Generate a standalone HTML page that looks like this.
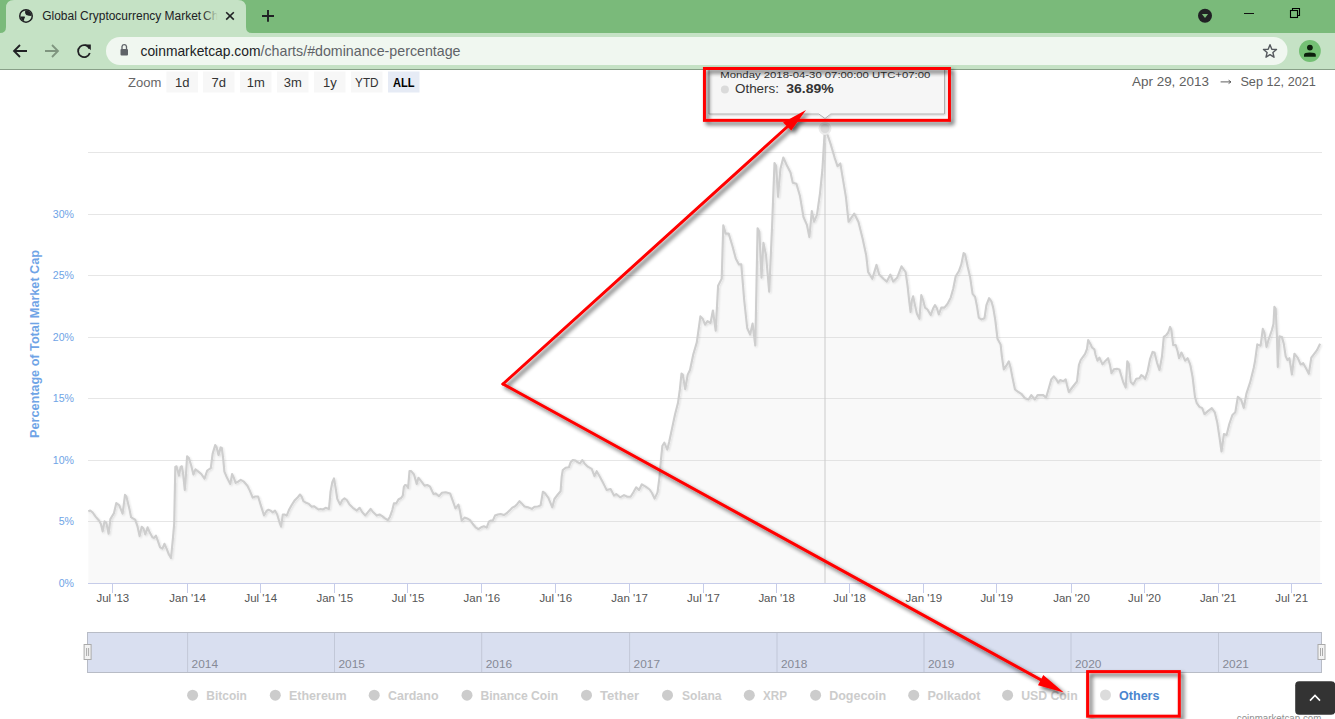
<!DOCTYPE html><html><head><meta charset="utf-8"><title>Global Cryptocurrency Market Charts</title><style>
html,body{margin:0;padding:0;background:#fff;overflow:hidden;width:1335px;height:719px}
svg{display:block;font-family:"Liberation Sans", sans-serif}
</style></head><body>
<svg width="1335" height="719" viewBox="0 0 1335 719">
<defs>
<filter id="rsh" x="-20%" y="-20%" width="140%" height="140%"><feGaussianBlur in="SourceAlpha" stdDeviation="2"/><feOffset dx="2.5" dy="2.5" result="b"/><feComponentTransfer in="b" result="c"><feFuncA type="linear" slope="0.65"/></feComponentTransfer><feMerge><feMergeNode in="c"/><feMergeNode in="SourceGraphic"/></feMerge></filter>
<filter id="lsh" x="-5%" y="-5%" width="110%" height="110%"><feGaussianBlur in="SourceAlpha" stdDeviation="0.8"/><feOffset dx="0.5" dy="1" result="b"/><feComponentTransfer in="b" result="c"><feFuncA type="linear" slope="0.12"/></feComponentTransfer><feMerge><feMergeNode in="c"/><feMergeNode in="SourceGraphic"/></feMerge></filter>
<filter id="tsh" x="-10%" y="-30%" width="120%" height="160%"><feGaussianBlur in="SourceAlpha" stdDeviation="1"/><feOffset dx="1" dy="1" result="b"/><feComponentTransfer in="b" result="c"><feFuncA type="linear" slope="0.2"/></feComponentTransfer><feMerge><feMergeNode in="c"/><feMergeNode in="SourceGraphic"/></feMerge></filter>
<linearGradient id="tfade" x1="0" x2="1" y1="0" y2="0"><stop offset="0" stop-color="#c5e2c5" stop-opacity="0"/><stop offset="1" stop-color="#c5e2c5" stop-opacity="1"/></linearGradient>
<clipPath id="gclip"><circle r="5.6"/></clipPath><clipPath id="plotclip"><rect x="88" y="70" width="1240" height="514"/></clipPath>
</defs>
<rect x="0" y="0" width="1335" height="33" fill="#7aba7a"/>
<path d="M0 33 Q6 33 6 27 L6 8 Q6 0 14 0 L238 0 Q246 0 246 8 L246 27 Q246 33 252 33 Z" fill="#c5e2c5"/>
<rect x="0" y="33" width="1335" height="36" fill="#c5e2c5"/>
<rect x="0" y="69" width="1335" height="1" fill="#88a088"/>
<g transform="translate(26,15.9)"><circle r="7" fill="#202124"/><circle r="5.5" fill="#c5e2c5"/><g clip-path="url(#gclip)" fill="#202124"><path d="M-0.8 -6 L-0.8 -4.9 Q-1.4 -2.4 0.3 -1 Q2.5 0 6 0.1 L6 -6 Z"/><path d="M-6 0.7 L-1.3 0.7 Q-0.5 1.8 -1.9 3.2 L-1.9 6 L-6 6 Z"/></g></g>
<text x="42.2" y="19.8" font-size="12" fill="#202124" textLength="159" lengthAdjust="spacingAndGlyphs">Global Cryptocurrency Market</text>
<text x="203" y="19.8" font-size="12" fill="#202124">Ch</text>
<rect x="203" y="3" width="15" height="26" fill="url(#tfade)"/><rect x="217.5" y="3" width="25" height="26" fill="#c5e2c5"/>
<path d="M226.2 12.2 L233.8 19.6 M233.8 12.2 L226.2 19.6" stroke="#202124" stroke-width="1.6"/>
<path d="M268 10.1 V21.8 M262 16 H274" stroke="#202124" stroke-width="1.9"/>
<circle cx="1205" cy="15.8" r="7" fill="#202124"/><path d="M1201.9 14 L1208.1 14 L1205 18 Z" fill="#7aba7a"/>
<rect x="1244" y="13" width="10" height="1" fill="#111"/>
<rect x="1290.5" y="10.5" width="7" height="7" fill="none" stroke="#000" stroke-width="1.1"/><path d="M1292.5 10 V8.5 H1299.5 V15.5 H1298" fill="none" stroke="#000" stroke-width="1.1"/>
<path d="M27 51 H14 M20 45 L14 51 L20 57" fill="none" stroke="#202124" stroke-width="1.8"/>
<path d="M45 51 H58 M52 45 L58 51 L52 57" fill="none" stroke="#7f957f" stroke-width="1.8"/>
<path d="M89.5 48.5 A6 6 0 1 0 89.8 53" fill="none" stroke="#202124" stroke-width="1.8"/><path d="M85 44.5 L90.8 44.5 L90.8 50.2 Z" fill="#202124"/>
<rect x="106" y="37" width="1181.5" height="28" rx="14" fill="#f0f7f0"/>
<rect x="120.5" y="49" width="7.5" height="6.5" rx="1" fill="#5f6368"/><path d="M122 49 V46.5 A2.3 2.3 0 0 1 126.5 46.5 V49" fill="none" stroke="#5f6368" stroke-width="1.3"/>
<text x="140.5" y="56.3" font-size="14.6" fill="#202124" textLength="120" lengthAdjust="spacingAndGlyphs">coinmarketcap.com</text><text x="260.5" y="56.3" font-size="14.6" fill="#5f6368" textLength="200" lengthAdjust="spacingAndGlyphs">/charts/#dominance-percentage</text>
<path d="M1270 44.7 L1271.8 49.2 L1276.5 49.5 L1272.9 52.5 L1274 57.2 L1270 54.6 L1266 57.2 L1267.1 52.5 L1263.5 49.5 L1268.2 49.2 Z" fill="none" stroke="#55595e" stroke-width="1.4" stroke-linejoin="round"/>
<circle cx="1309.9" cy="51" r="10.9" fill="#74c074"/><circle cx="1309.9" cy="47.6" r="2.9" fill="#0c1f0c"/><path d="M1304 56.8 V54.8 Q1304 52.4 1309.9 52.4 Q1315.8 52.4 1315.8 54.8 V56.8 Z" fill="#0c1f0c"/>
<text x="128" y="87" font-size="13" fill="#666">Zoom</text>
<rect x="166.4" y="71.5" width="31.5" height="21" fill="#f7f7f7"/>
<text x="182.2" y="87" font-size="13" text-anchor="middle" fill="#333">1d</text>
<rect x="203" y="71.5" width="31.5" height="21" fill="#f7f7f7"/>
<text x="218.8" y="87" font-size="13" text-anchor="middle" fill="#333">7d</text>
<rect x="240" y="71.5" width="31.5" height="21" fill="#f7f7f7"/>
<text x="255.8" y="87" font-size="13" text-anchor="middle" fill="#333">1m</text>
<rect x="277" y="71.5" width="31.5" height="21" fill="#f7f7f7"/>
<text x="292.8" y="87" font-size="13" text-anchor="middle" fill="#333">3m</text>
<rect x="314" y="71.5" width="31.5" height="21" fill="#f7f7f7"/>
<text x="329.8" y="87" font-size="13" text-anchor="middle" fill="#333">1y</text>
<rect x="351" y="71.5" width="31.5" height="21" fill="#f7f7f7"/>
<text x="366.8" y="87" font-size="13" text-anchor="middle" fill="#333" textLength="23.5" lengthAdjust="spacingAndGlyphs">YTD</text>
<rect x="388" y="71.5" width="31.5" height="21" fill="#e6ebf5"/>
<text x="403.8" y="87" font-size="13" text-anchor="middle" fill="#000" font-weight="bold" textLength="21.5" lengthAdjust="spacingAndGlyphs">ALL</text>
<text x="1132" y="86.3" font-size="13" fill="#606060" textLength="77" lengthAdjust="spacingAndGlyphs">Apr 29, 2013</text>
<path d="M1220.6 81.9 H1231 M1228.6 80.2 L1231 81.9 L1228.6 83.6" fill="none" stroke="#606060" stroke-width="1"/>
<text x="1240.4" y="86.3" font-size="13" fill="#606060" textLength="75.5" lengthAdjust="spacingAndGlyphs">Sep 12, 2021</text>
<rect x="88" y="152" width="1234" height="1" fill="#e6e6e6"/>
<rect x="88" y="214" width="1234" height="1" fill="#e6e6e6"/>
<rect x="88" y="275" width="1234" height="1" fill="#e6e6e6"/>
<rect x="88" y="337" width="1234" height="1" fill="#e6e6e6"/>
<rect x="88" y="398" width="1234" height="1" fill="#e6e6e6"/>
<rect x="88" y="460" width="1234" height="1" fill="#e6e6e6"/>
<rect x="88" y="521" width="1234" height="1" fill="#e6e6e6"/>
<text x="74" y="217.9" font-size="10.6" text-anchor="end" fill="#6fa4e6">30%</text>
<text x="74" y="278.9" font-size="10.6" text-anchor="end" fill="#6fa4e6">25%</text>
<text x="74" y="340.9" font-size="10.6" text-anchor="end" fill="#6fa4e6">20%</text>
<text x="74" y="401.9" font-size="10.6" text-anchor="end" fill="#6fa4e6">15%</text>
<text x="74" y="463.9" font-size="10.6" text-anchor="end" fill="#6fa4e6">10%</text>
<text x="74" y="524.9" font-size="10.6" text-anchor="end" fill="#6fa4e6">5%</text>
<text x="74" y="586.9" font-size="10.6" text-anchor="end" fill="#6fa4e6">0%</text>
<text transform="translate(39.2,438) rotate(-90)" font-size="12" font-weight="bold" fill="#6fa4e6" textLength="188" lengthAdjust="spacingAndGlyphs">Percentage of Total Market Cap</text>
<path d="M88.3 511.3 L90.3 510.5 L92.7 512.5 L95.6 516.6 L99.2 520.8 L101 524.3 L102.7 531.4 L104.5 521.4 L106.3 522.6 L108.6 533.8 L110.4 519 L112.2 516 L114 513.1 L116.3 503 L119.3 505.4 L122.6 513.7 L125 494.8 L126.4 496.5 L129.3 508.4 L131.1 517.2 L132.9 518.4 L135.2 519.6 L137.6 526.7 L139.6 536.1 L141.7 526.7 L143.5 528.5 L145.3 534.4 L147.6 527.3 L149.8 532.6 L152.4 537.3 L154.1 537.9 L155.9 535.6 L157.7 540.3 L160.1 547.4 L162.4 548.6 L164.4 543.8 L166.6 548.6 L168.9 554.5 L171 558 L173.1 536.7 L174.2 523.7 L175.3 466.9 L176.5 466.3 L177.7 470.5 L178.9 475.8 L180.6 466.9 L181.8 466.3 L183 472.8 L184.8 490 L186 474 L187.1 456.3 L188.9 458 L191.3 465.7 L193.4 474.6 L195.4 469.3 L198.4 471.6 L201.3 474 L204.5 478.7 L207.2 470.5 L210.8 468.1 L212.6 453.9 L215.2 445 L216.7 447.4 L218.5 455.1 L220.6 447.4 L221.8 448 L223.2 458.6 L224.4 471.6 L226.7 477 L230.3 484.1 L232.1 474 L233.8 477.6 L235.6 482.9 L238 481.7 L240.7 479.9 L243.9 481.7 L247.4 485.8 L249.8 490.6 L252.7 497.6 L255.1 496.5 L258.1 496.5 L261 505.9 L264 515.4 L266.5 511 L268.5 509.7 L270.6 510.6 L272.8 512.3 L275 510.6 L277.2 514.5 L279.5 522.3 L281.1 526.7 L282.8 514.5 L284.5 514.5 L286.7 515.6 L288.9 510.1 L291.7 505 L294.5 500.6 L297.3 497.8 L300 494.5 L301.7 496.7 L303.4 501.2 L306.2 502.8 L308.9 503.9 L311.7 506.7 L313.9 506.2 L316.2 507.8 L318.4 509.5 L320.6 508.9 L322.8 509.5 L325.6 507.8 L329 508.9 L330.6 491.1 L332.3 482.2 L334 478.4 L335.6 487.8 L337.3 498.9 L340.1 504.5 L342.3 500 L344.5 498.4 L346.8 500 L349.5 504.5 L352.9 507.8 L356.8 510.6 L359.6 507.8 L362.3 512.3 L365.3 515.4 L367.8 512.3 L370.6 508.9 L373.3 512.3 L376.7 515.6 L379.5 514.5 L382.2 516.2 L385 518.4 L387.8 520.1 L390 516.7 L392.3 510.1 L393.9 503.4 L396.2 503.4 L398.4 499.5 L401.2 497.8 L402.8 495.6 L403.9 486.7 L405 485 L406.7 485.6 L408.1 487.8 L409.5 471.1 L411.2 471.1 L414 474.5 L416.7 483.9 L418.4 477.8 L421.2 481.1 L424.5 485.6 L427.3 485 L430.1 486.7 L433.4 493.9 L435.6 493.4 L439 496.2 L441.8 492.8 L445.7 492.3 L450.1 493.4 L452.9 501.2 L455.5 508.5 L458.4 504.5 L460 511.2 L461.7 520.6 L464.5 517.6 L467.2 518.4 L470 520.1 L472.8 524 L475.6 527.3 L478.4 529.2 L481.1 527.3 L483.9 526.2 L486.7 527.6 L488.9 521.7 L490.6 520.6 L492.8 520.6 L495 515.6 L497.8 514.5 L500.6 514 L503.9 515.1 L506.7 513.2 L509.5 510.6 L512.3 507.6 L515.1 506.2 L517.3 503.9 L519.5 501.2 L521.7 503.4 L524.5 506.5 L527.9 507.3 L531.8 508.9 L534.5 506.7 L537.9 506.5 L540.6 505.4 L542.9 491.7 L545.1 493.4 L548.4 497.8 L552.3 507.3 L554.4 499 L557.8 494.5 L560.6 491.2 L561.7 476.7 L562.8 470 L565.6 467.8 L568.9 467.3 L570.6 462.3 L572.8 460 L575.6 460.6 L577.8 462.3 L580 463.4 L582.3 460 L584.5 463.4 L587.8 466.7 L591.7 468.9 L594.5 476.2 L596.7 471.2 L598.9 475 L602.3 481.2 L604.5 485.6 L606.7 490.1 L610.6 489 L614 495.6 L616.2 494 L620.1 497.3 L624 495.1 L627.3 496.7 L630.6 496.7 L633.4 492.3 L636.2 487.3 L639 490.1 L641.8 484.3 L645.7 486.7 L649.6 489.5 L652 493 L654.6 498.6 L657.5 492.4 L659.5 476.8 L661 459.3 L662.4 445.7 L664.3 442.7 L667.3 449.6 L669.2 441.8 L672.1 428.1 L675 414.5 L678 402.8 L679.9 389.2 L681.5 373.6 L682.8 374.6 L685.2 389.2 L687.7 374.6 L690 370 L693.3 354.2 L696.8 342.4 L700.4 316.4 L702.7 318.8 L705.1 324.7 L707.5 321.1 L710.5 323 L712.9 310.5 L715.7 330.6 L718.1 285.7 L721.7 278.6 L723.3 225.4 L725.7 233.6 L728.7 233.6 L732.3 245.5 L735.8 258.5 L738.9 264.4 L741.3 264.4 L744.2 300 L747.2 328 L750.1 334.6 L752.6 323.6 L755.3 345.5 L757.6 228.3 L759.4 231.8 L761.5 277.8 L763.4 242.7 L766 255 L769.2 291.6 L772.1 225.9 L774.5 163.1 L776.2 166.1 L778 196.8 L780.4 169 L783.3 157.5 L786.8 165.3 L790.5 172.5 L792.8 182.7 L796.4 183.8 L799.9 195.7 L803.5 217 L807 225.2 L809.4 237 L811.8 211 L814.1 221.7 L817 214.6 L820 193.3 L822.4 169.7 L824.8 129.5 L827.8 135.6 L830.6 143.9 L834.7 157.8 L837.5 166.2 L840.3 163.4 L843.1 180.1 L845.9 196.8 L848.6 221.8 L851.4 217.6 L854.2 213.5 L858.4 221.8 L862.6 238.5 L866.2 255.2 L868.1 271.9 L872.3 278.8 L876.5 264.9 L879.2 274.6 L883.4 278.8 L886.8 281.6 L890.4 274.6 L893.2 281.6 L897.3 277.4 L901.5 266.3 L905.6 272 L907.5 285.1 L909.4 302.6 L910.6 312 L911.9 300.1 L913.1 296.3 L915 305.1 L916.9 313.8 L919.4 318.8 L921.3 295.1 L923.1 300.1 L925 307.6 L927.5 309.5 L930.7 315.1 L933.2 308.2 L935 305.1 L936.9 308.2 L938.8 314.5 L941.3 307.6 L944.4 307.6 L947.6 303.8 L950.7 297.6 L953.2 288.8 L955.7 276.3 L958.8 271.3 L961.3 264.4 L963.6 253.1 L965.1 254.4 L967.6 266.3 L970.1 276.9 L972.6 293.8 L975.1 296.9 L977 306.3 L978.8 317.6 L981.3 319.5 L984.5 318.2 L986.4 305.1 L989.1 298.2 L991.4 301.3 L993.2 307.6 L995.1 318.8 L995.6 322.5 L997.5 338.8 L1000.6 344.4 L1001.9 356.3 L1003.8 369.4 L1006.3 365.7 L1008.8 361.3 L1010.6 367.6 L1012.5 377.6 L1015 389.5 L1017.5 391.3 L1021.3 393.8 L1025 398.2 L1028.5 399.5 L1031.3 395.1 L1034.8 399.5 L1037.6 395.1 L1040.7 395.1 L1043.2 395.1 L1046.1 397.6 L1048.8 388.2 L1051.3 379.4 L1053.8 376.3 L1056.3 379.4 L1058.2 382.6 L1060.1 380.1 L1063.2 381.3 L1065.7 379.4 L1067 385.1 L1068.8 392 L1072.6 387 L1077 381.3 L1078.9 365.1 L1080.7 360 L1085.1 353.8 L1087 348.8 L1088.2 340 L1090.7 344.4 L1092 347.5 L1094.4 349.4 L1095.6 355 L1097.5 360.7 L1099.4 357.6 L1102.5 364.4 L1105.6 360.7 L1108.1 358.2 L1110 365.1 L1111.5 373.2 L1113.8 369.4 L1116.9 368.8 L1119.4 369.4 L1121.3 375.7 L1123.2 382 L1125.7 387.6 L1127.3 361.3 L1128.8 363.8 L1130.7 382 L1133.2 384.5 L1136.3 378.8 L1139.4 378.2 L1141.3 375.1 L1143.2 376.3 L1145.1 378.8 L1147.6 371.3 L1150.1 358.8 L1152.6 351.9 L1154.5 352.5 L1157 362.6 L1159.5 370.1 L1162 356.3 L1163.8 336.9 L1166.3 335 L1168.2 332.5 L1170.1 326.9 L1171.4 330 L1173.2 345 L1175.7 345 L1177.6 351.3 L1179.1 358.2 L1181.4 352.5 L1183.2 356.3 L1185.1 360.7 L1187.6 358.2 L1189.5 362.6 L1190.4 365.3 L1192.6 377 L1195 396.9 L1196.8 403.2 L1199.5 406.9 L1202.2 408.1 L1204.5 414.1 L1207.6 411.4 L1211.8 408.1 L1214.8 412.3 L1217.2 422.2 L1219.4 436.7 L1221.5 451.5 L1223.9 434 L1226.6 434.9 L1229.3 424 L1232.4 415 L1235.3 412.3 L1237.8 396.9 L1241.1 399.6 L1243.8 407.8 L1246.5 393.3 L1250.1 382.4 L1253.7 368 L1255 361.3 L1257.3 344.4 L1258.8 345.1 L1260.6 345.7 L1262.8 328.8 L1264.4 332.5 L1266.5 346.9 L1268.8 338.8 L1271.9 330 L1273.5 323.8 L1274.4 306.9 L1275.7 308.8 L1276.9 335 L1277.8 367 L1279.4 336.3 L1281.9 336.9 L1283.8 343.8 L1285.7 356.3 L1287.5 360.1 L1289.4 358.2 L1291.9 374.5 L1294.4 353.8 L1297.6 357.6 L1300.7 364.5 L1303.2 363.2 L1306.3 368.8 L1308.8 373.8 L1311.3 357.6 L1313.8 354.4 L1317 350.1 L1320.1 343.8 L1320.1 583 L88.3 583 Z" fill="#cccccc" fill-opacity="0.12"/>
<rect x="824.5" y="128" width="1" height="455" fill="#cccccc"/>
<path d="M88.3 511.3 L90.3 510.5 L92.7 512.5 L95.6 516.6 L99.2 520.8 L101 524.3 L102.7 531.4 L104.5 521.4 L106.3 522.6 L108.6 533.8 L110.4 519 L112.2 516 L114 513.1 L116.3 503 L119.3 505.4 L122.6 513.7 L125 494.8 L126.4 496.5 L129.3 508.4 L131.1 517.2 L132.9 518.4 L135.2 519.6 L137.6 526.7 L139.6 536.1 L141.7 526.7 L143.5 528.5 L145.3 534.4 L147.6 527.3 L149.8 532.6 L152.4 537.3 L154.1 537.9 L155.9 535.6 L157.7 540.3 L160.1 547.4 L162.4 548.6 L164.4 543.8 L166.6 548.6 L168.9 554.5 L171 558 L173.1 536.7 L174.2 523.7 L175.3 466.9 L176.5 466.3 L177.7 470.5 L178.9 475.8 L180.6 466.9 L181.8 466.3 L183 472.8 L184.8 490 L186 474 L187.1 456.3 L188.9 458 L191.3 465.7 L193.4 474.6 L195.4 469.3 L198.4 471.6 L201.3 474 L204.5 478.7 L207.2 470.5 L210.8 468.1 L212.6 453.9 L215.2 445 L216.7 447.4 L218.5 455.1 L220.6 447.4 L221.8 448 L223.2 458.6 L224.4 471.6 L226.7 477 L230.3 484.1 L232.1 474 L233.8 477.6 L235.6 482.9 L238 481.7 L240.7 479.9 L243.9 481.7 L247.4 485.8 L249.8 490.6 L252.7 497.6 L255.1 496.5 L258.1 496.5 L261 505.9 L264 515.4 L266.5 511 L268.5 509.7 L270.6 510.6 L272.8 512.3 L275 510.6 L277.2 514.5 L279.5 522.3 L281.1 526.7 L282.8 514.5 L284.5 514.5 L286.7 515.6 L288.9 510.1 L291.7 505 L294.5 500.6 L297.3 497.8 L300 494.5 L301.7 496.7 L303.4 501.2 L306.2 502.8 L308.9 503.9 L311.7 506.7 L313.9 506.2 L316.2 507.8 L318.4 509.5 L320.6 508.9 L322.8 509.5 L325.6 507.8 L329 508.9 L330.6 491.1 L332.3 482.2 L334 478.4 L335.6 487.8 L337.3 498.9 L340.1 504.5 L342.3 500 L344.5 498.4 L346.8 500 L349.5 504.5 L352.9 507.8 L356.8 510.6 L359.6 507.8 L362.3 512.3 L365.3 515.4 L367.8 512.3 L370.6 508.9 L373.3 512.3 L376.7 515.6 L379.5 514.5 L382.2 516.2 L385 518.4 L387.8 520.1 L390 516.7 L392.3 510.1 L393.9 503.4 L396.2 503.4 L398.4 499.5 L401.2 497.8 L402.8 495.6 L403.9 486.7 L405 485 L406.7 485.6 L408.1 487.8 L409.5 471.1 L411.2 471.1 L414 474.5 L416.7 483.9 L418.4 477.8 L421.2 481.1 L424.5 485.6 L427.3 485 L430.1 486.7 L433.4 493.9 L435.6 493.4 L439 496.2 L441.8 492.8 L445.7 492.3 L450.1 493.4 L452.9 501.2 L455.5 508.5 L458.4 504.5 L460 511.2 L461.7 520.6 L464.5 517.6 L467.2 518.4 L470 520.1 L472.8 524 L475.6 527.3 L478.4 529.2 L481.1 527.3 L483.9 526.2 L486.7 527.6 L488.9 521.7 L490.6 520.6 L492.8 520.6 L495 515.6 L497.8 514.5 L500.6 514 L503.9 515.1 L506.7 513.2 L509.5 510.6 L512.3 507.6 L515.1 506.2 L517.3 503.9 L519.5 501.2 L521.7 503.4 L524.5 506.5 L527.9 507.3 L531.8 508.9 L534.5 506.7 L537.9 506.5 L540.6 505.4 L542.9 491.7 L545.1 493.4 L548.4 497.8 L552.3 507.3 L554.4 499 L557.8 494.5 L560.6 491.2 L561.7 476.7 L562.8 470 L565.6 467.8 L568.9 467.3 L570.6 462.3 L572.8 460 L575.6 460.6 L577.8 462.3 L580 463.4 L582.3 460 L584.5 463.4 L587.8 466.7 L591.7 468.9 L594.5 476.2 L596.7 471.2 L598.9 475 L602.3 481.2 L604.5 485.6 L606.7 490.1 L610.6 489 L614 495.6 L616.2 494 L620.1 497.3 L624 495.1 L627.3 496.7 L630.6 496.7 L633.4 492.3 L636.2 487.3 L639 490.1 L641.8 484.3 L645.7 486.7 L649.6 489.5 L652 493 L654.6 498.6 L657.5 492.4 L659.5 476.8 L661 459.3 L662.4 445.7 L664.3 442.7 L667.3 449.6 L669.2 441.8 L672.1 428.1 L675 414.5 L678 402.8 L679.9 389.2 L681.5 373.6 L682.8 374.6 L685.2 389.2 L687.7 374.6 L690 370 L693.3 354.2 L696.8 342.4 L700.4 316.4 L702.7 318.8 L705.1 324.7 L707.5 321.1 L710.5 323 L712.9 310.5 L715.7 330.6 L718.1 285.7 L721.7 278.6 L723.3 225.4 L725.7 233.6 L728.7 233.6 L732.3 245.5 L735.8 258.5 L738.9 264.4 L741.3 264.4 L744.2 300 L747.2 328 L750.1 334.6 L752.6 323.6 L755.3 345.5 L757.6 228.3 L759.4 231.8 L761.5 277.8 L763.4 242.7 L766 255 L769.2 291.6 L772.1 225.9 L774.5 163.1 L776.2 166.1 L778 196.8 L780.4 169 L783.3 157.5 L786.8 165.3 L790.5 172.5 L792.8 182.7 L796.4 183.8 L799.9 195.7 L803.5 217 L807 225.2 L809.4 237 L811.8 211 L814.1 221.7 L817 214.6 L820 193.3 L822.4 169.7 L824.8 129.5 L827.8 135.6 L830.6 143.9 L834.7 157.8 L837.5 166.2 L840.3 163.4 L843.1 180.1 L845.9 196.8 L848.6 221.8 L851.4 217.6 L854.2 213.5 L858.4 221.8 L862.6 238.5 L866.2 255.2 L868.1 271.9 L872.3 278.8 L876.5 264.9 L879.2 274.6 L883.4 278.8 L886.8 281.6 L890.4 274.6 L893.2 281.6 L897.3 277.4 L901.5 266.3 L905.6 272 L907.5 285.1 L909.4 302.6 L910.6 312 L911.9 300.1 L913.1 296.3 L915 305.1 L916.9 313.8 L919.4 318.8 L921.3 295.1 L923.1 300.1 L925 307.6 L927.5 309.5 L930.7 315.1 L933.2 308.2 L935 305.1 L936.9 308.2 L938.8 314.5 L941.3 307.6 L944.4 307.6 L947.6 303.8 L950.7 297.6 L953.2 288.8 L955.7 276.3 L958.8 271.3 L961.3 264.4 L963.6 253.1 L965.1 254.4 L967.6 266.3 L970.1 276.9 L972.6 293.8 L975.1 296.9 L977 306.3 L978.8 317.6 L981.3 319.5 L984.5 318.2 L986.4 305.1 L989.1 298.2 L991.4 301.3 L993.2 307.6 L995.1 318.8 L995.6 322.5 L997.5 338.8 L1000.6 344.4 L1001.9 356.3 L1003.8 369.4 L1006.3 365.7 L1008.8 361.3 L1010.6 367.6 L1012.5 377.6 L1015 389.5 L1017.5 391.3 L1021.3 393.8 L1025 398.2 L1028.5 399.5 L1031.3 395.1 L1034.8 399.5 L1037.6 395.1 L1040.7 395.1 L1043.2 395.1 L1046.1 397.6 L1048.8 388.2 L1051.3 379.4 L1053.8 376.3 L1056.3 379.4 L1058.2 382.6 L1060.1 380.1 L1063.2 381.3 L1065.7 379.4 L1067 385.1 L1068.8 392 L1072.6 387 L1077 381.3 L1078.9 365.1 L1080.7 360 L1085.1 353.8 L1087 348.8 L1088.2 340 L1090.7 344.4 L1092 347.5 L1094.4 349.4 L1095.6 355 L1097.5 360.7 L1099.4 357.6 L1102.5 364.4 L1105.6 360.7 L1108.1 358.2 L1110 365.1 L1111.5 373.2 L1113.8 369.4 L1116.9 368.8 L1119.4 369.4 L1121.3 375.7 L1123.2 382 L1125.7 387.6 L1127.3 361.3 L1128.8 363.8 L1130.7 382 L1133.2 384.5 L1136.3 378.8 L1139.4 378.2 L1141.3 375.1 L1143.2 376.3 L1145.1 378.8 L1147.6 371.3 L1150.1 358.8 L1152.6 351.9 L1154.5 352.5 L1157 362.6 L1159.5 370.1 L1162 356.3 L1163.8 336.9 L1166.3 335 L1168.2 332.5 L1170.1 326.9 L1171.4 330 L1173.2 345 L1175.7 345 L1177.6 351.3 L1179.1 358.2 L1181.4 352.5 L1183.2 356.3 L1185.1 360.7 L1187.6 358.2 L1189.5 362.6 L1190.4 365.3 L1192.6 377 L1195 396.9 L1196.8 403.2 L1199.5 406.9 L1202.2 408.1 L1204.5 414.1 L1207.6 411.4 L1211.8 408.1 L1214.8 412.3 L1217.2 422.2 L1219.4 436.7 L1221.5 451.5 L1223.9 434 L1226.6 434.9 L1229.3 424 L1232.4 415 L1235.3 412.3 L1237.8 396.9 L1241.1 399.6 L1243.8 407.8 L1246.5 393.3 L1250.1 382.4 L1253.7 368 L1255 361.3 L1257.3 344.4 L1258.8 345.1 L1260.6 345.7 L1262.8 328.8 L1264.4 332.5 L1266.5 346.9 L1268.8 338.8 L1271.9 330 L1273.5 323.8 L1274.4 306.9 L1275.7 308.8 L1276.9 335 L1277.8 367 L1279.4 336.3 L1281.9 336.9 L1283.8 343.8 L1285.7 356.3 L1287.5 360.1 L1289.4 358.2 L1291.9 374.5 L1294.4 353.8 L1297.6 357.6 L1300.7 364.5 L1303.2 363.2 L1306.3 368.8 L1308.8 373.8 L1311.3 357.6 L1313.8 354.4 L1317 350.1 L1320.1 343.8" fill="none" stroke="#cecece" stroke-width="2.1" stroke-linejoin="round" filter="url(#lsh)"/>
<rect x="88" y="583" width="1234" height="1" fill="#c6cce9"/>
<rect x="112" y="583" width="1" height="10" fill="#c6cce9"/>
<text x="96.5" y="602" font-size="11" fill="#555" textLength="32.7" lengthAdjust="spacingAndGlyphs">Jul '13</text>
<rect x="187" y="583" width="1" height="10" fill="#c6cce9"/>
<text x="169.3" y="602" font-size="11" fill="#555" textLength="36.6" lengthAdjust="spacingAndGlyphs">Jan '14</text>
<rect x="260" y="583" width="1" height="10" fill="#c6cce9"/>
<text x="244.5" y="602" font-size="11" fill="#555" textLength="32.7" lengthAdjust="spacingAndGlyphs">Jul '14</text>
<rect x="334" y="583" width="1" height="10" fill="#c6cce9"/>
<text x="316.5" y="602" font-size="11" fill="#555" textLength="36.6" lengthAdjust="spacingAndGlyphs">Jan '15</text>
<rect x="407" y="583" width="1" height="10" fill="#c6cce9"/>
<text x="391.7" y="602" font-size="11" fill="#555" textLength="32.7" lengthAdjust="spacingAndGlyphs">Jul '15</text>
<rect x="481" y="583" width="1" height="10" fill="#c6cce9"/>
<text x="463.6" y="602" font-size="11" fill="#555" textLength="36.6" lengthAdjust="spacingAndGlyphs">Jan '16</text>
<rect x="555" y="583" width="1" height="10" fill="#c6cce9"/>
<text x="539.4" y="602" font-size="11" fill="#555" textLength="32.7" lengthAdjust="spacingAndGlyphs">Jul '16</text>
<rect x="629" y="583" width="1" height="10" fill="#c6cce9"/>
<text x="611.3" y="602" font-size="11" fill="#555" textLength="36.6" lengthAdjust="spacingAndGlyphs">Jan '17</text>
<rect x="703" y="583" width="1" height="10" fill="#c6cce9"/>
<text x="687.1" y="602" font-size="11" fill="#555" textLength="32.7" lengthAdjust="spacingAndGlyphs">Jul '17</text>
<rect x="776" y="583" width="1" height="10" fill="#c6cce9"/>
<text x="758.4" y="602" font-size="11" fill="#555" textLength="36.6" lengthAdjust="spacingAndGlyphs">Jan '18</text>
<rect x="849" y="583" width="1" height="10" fill="#c6cce9"/>
<text x="833.2" y="602" font-size="11" fill="#555" textLength="32.7" lengthAdjust="spacingAndGlyphs">Jul '18</text>
<rect x="923" y="583" width="1" height="10" fill="#c6cce9"/>
<text x="905.6" y="602" font-size="11" fill="#555" textLength="36.6" lengthAdjust="spacingAndGlyphs">Jan '19</text>
<rect x="996" y="583" width="1" height="10" fill="#c6cce9"/>
<text x="980.4" y="602" font-size="11" fill="#555" textLength="32.7" lengthAdjust="spacingAndGlyphs">Jul '19</text>
<rect x="1071" y="583" width="1" height="10" fill="#c6cce9"/>
<text x="1053.2" y="602" font-size="11" fill="#555" textLength="36.6" lengthAdjust="spacingAndGlyphs">Jan '20</text>
<rect x="1144" y="583" width="1" height="10" fill="#c6cce9"/>
<text x="1128.1" y="602" font-size="11" fill="#555" textLength="32.7" lengthAdjust="spacingAndGlyphs">Jul '20</text>
<rect x="1218" y="583" width="1" height="10" fill="#c6cce9"/>
<text x="1199.9" y="602" font-size="11" fill="#555" textLength="36.6" lengthAdjust="spacingAndGlyphs">Jan '21</text>
<rect x="1291" y="583" width="1" height="10" fill="#c6cce9"/>
<text x="1275.3" y="602" font-size="11" fill="#555" textLength="32.7" lengthAdjust="spacingAndGlyphs">Jul '21</text>
<circle cx="825" cy="128.5" r="6.5" fill="#ebebeb"/><circle cx="825" cy="128.5" r="4.5" fill="#dadada"/>
<rect x="87.5" y="632.5" width="1234" height="40" fill="#d9dff0" stroke="#b8bcc6" stroke-width="1"/>
<rect x="187.1" y="633" width="1" height="39" fill="#c2c8d8"/>
<text x="191.6" y="667.9" font-size="11" fill="#868a96" textLength="26.4" lengthAdjust="spacingAndGlyphs">2014</text>
<rect x="334" y="633" width="1" height="39" fill="#c2c8d8"/>
<text x="338.5" y="667.9" font-size="11" fill="#868a96" textLength="26.4" lengthAdjust="spacingAndGlyphs">2015</text>
<rect x="481.2" y="633" width="1" height="39" fill="#c2c8d8"/>
<text x="485.7" y="667.9" font-size="11" fill="#868a96" textLength="26.4" lengthAdjust="spacingAndGlyphs">2016</text>
<rect x="629.1" y="633" width="1" height="39" fill="#c2c8d8"/>
<text x="633.6" y="667.9" font-size="11" fill="#868a96" textLength="26.4" lengthAdjust="spacingAndGlyphs">2017</text>
<rect x="776.5" y="633" width="1" height="39" fill="#c2c8d8"/>
<text x="781" y="667.9" font-size="11" fill="#868a96" textLength="26.4" lengthAdjust="spacingAndGlyphs">2018</text>
<rect x="923.5" y="633" width="1" height="39" fill="#c2c8d8"/>
<text x="928" y="667.9" font-size="11" fill="#868a96" textLength="26.4" lengthAdjust="spacingAndGlyphs">2019</text>
<rect x="1070.5" y="633" width="1" height="39" fill="#c2c8d8"/>
<text x="1075" y="667.9" font-size="11" fill="#868a96" textLength="26.4" lengthAdjust="spacingAndGlyphs">2020</text>
<rect x="1218" y="633" width="1" height="39" fill="#c2c8d8"/>
<text x="1222.5" y="667.9" font-size="11" fill="#868a96" textLength="26.4" lengthAdjust="spacingAndGlyphs">2021</text>
<rect x="84.1" y="644.5" width="7" height="15" fill="#f2f2f2" stroke="#aaa" stroke-width="1"/>
<path d="M86.6 648 V656 M88.6 648 V656" stroke="#aaa" stroke-width="1"/>
<rect x="1318" y="644.5" width="7" height="15" fill="#f2f2f2" stroke="#aaa" stroke-width="1"/>
<path d="M1320.5 648 V656 M1322.5 648 V656" stroke="#aaa" stroke-width="1"/>
<circle cx="192.6" cy="695.2" r="5.5" fill="#cccccc"/>
<text x="206.3" y="700" font-size="12" font-weight="bold" fill="#cccccc" textLength="40.6" lengthAdjust="spacingAndGlyphs">Bitcoin</text>
<circle cx="275.3" cy="695.2" r="5.5" fill="#cccccc"/>
<text x="289" y="700" font-size="12" font-weight="bold" fill="#cccccc" textLength="57.6" lengthAdjust="spacingAndGlyphs">Ethereum</text>
<circle cx="374.2" cy="695.2" r="5.5" fill="#cccccc"/>
<text x="388" y="700" font-size="12" font-weight="bold" fill="#cccccc" textLength="50.5" lengthAdjust="spacingAndGlyphs">Cardano</text>
<circle cx="467" cy="695.2" r="5.5" fill="#cccccc"/>
<text x="480.4" y="700" font-size="12" font-weight="bold" fill="#cccccc" textLength="77.7" lengthAdjust="spacingAndGlyphs">Binance Coin</text>
<circle cx="586.5" cy="695.2" r="5.5" fill="#cccccc"/>
<text x="600" y="700" font-size="12" font-weight="bold" fill="#cccccc" textLength="39" lengthAdjust="spacingAndGlyphs">Tether</text>
<circle cx="667.5" cy="695.2" r="5.5" fill="#cccccc"/>
<text x="682" y="700" font-size="12" font-weight="bold" fill="#cccccc" textLength="39.5" lengthAdjust="spacingAndGlyphs">Solana</text>
<circle cx="749.3" cy="695.2" r="5.5" fill="#cccccc"/>
<text x="763" y="700" font-size="12" font-weight="bold" fill="#cccccc" textLength="24" lengthAdjust="spacingAndGlyphs">XRP</text>
<circle cx="815.6" cy="695.2" r="5.5" fill="#cccccc"/>
<text x="829.2" y="700" font-size="12" font-weight="bold" fill="#cccccc" textLength="57" lengthAdjust="spacingAndGlyphs">Dogecoin</text>
<circle cx="913.7" cy="695.2" r="5.5" fill="#cccccc"/>
<text x="927.4" y="700" font-size="12" font-weight="bold" fill="#cccccc" textLength="53" lengthAdjust="spacingAndGlyphs">Polkadot</text>
<circle cx="1007.6" cy="695.2" r="5.5" fill="#cccccc"/>
<text x="1021.2" y="700" font-size="12" font-weight="bold" fill="#cccccc" textLength="56.6" lengthAdjust="spacingAndGlyphs">USD Coin</text>
<circle cx="1105.5" cy="695" r="5.5" fill="#dcdcdc"/>
<text x="1119" y="700" font-size="12" font-weight="bold" fill="#4a86cf" textLength="40.5" lengthAdjust="spacingAndGlyphs">Others</text>
<text x="1236.8" y="721.5" font-size="10" fill="#909090" textLength="84.5" lengthAdjust="spacingAndGlyphs">coinmarketcap.com</text>
<rect x="1295.2" y="681.2" width="40" height="33.6" rx="4" fill="#333333"/>
<path d="M1310 700.6 L1315 695.4 L1320 700.6" fill="none" stroke="#fff" stroke-width="1.6"/>
<g filter="url(#tsh)"><path d="M709 60 L944.5 60 L944.5 114 L830.8 114 L825 118.5 L818.8 114 L709 114 Z" fill="#f7f7f7" fill-opacity="0.9" stroke="#b0b0b0" stroke-width="1"/></g>
<text x="720.3" y="77.8" font-size="9.6" fill="#333" textLength="210" lengthAdjust="spacingAndGlyphs">Monday 2018-04-30 07:00:00 UTC+07:00</text>
<circle cx="724.9" cy="89.6" r="4" fill="#dadada"/>
<text x="735" y="93.4" font-size="12" fill="#333" textLength="44" lengthAdjust="spacingAndGlyphs">Others:</text><text x="786.2" y="93.4" font-size="12" font-weight="bold" fill="#333" textLength="47.5" lengthAdjust="spacingAndGlyphs">36.89%</text>
<rect x="690" y="33" width="280" height="36" fill="#c5e2c5"/>
<rect x="690" y="37" width="280" height="28" fill="#f0f7f0"/>
<rect x="690" y="69" width="280" height="1" fill="#88a088"/>
<g filter="url(#rsh)">
<rect x="704.45" y="68.5" width="245" height="51.85" fill="none" stroke="#ff0000" stroke-width="3"/>
<rect x="1087.6" y="671.6" width="91.7" height="44.6" fill="none" stroke="#ff0000" stroke-width="3"/>
<path d="M503 384 L797 118" stroke="#ff0000" stroke-width="3" fill="none" stroke-linecap="round"/>
<path d="M806 110 L783 122.5 L791.3 130.4 Z" fill="#ff0000"/>
<path d="M503 384 L1053 686.5" stroke="#ff0000" stroke-width="3" fill="none" stroke-linecap="round"/>
<path d="M1063.8 692.6 L1043.3 675 L1038 685.3 Z" fill="#ff0000"/>
</g>
</svg></body></html>
